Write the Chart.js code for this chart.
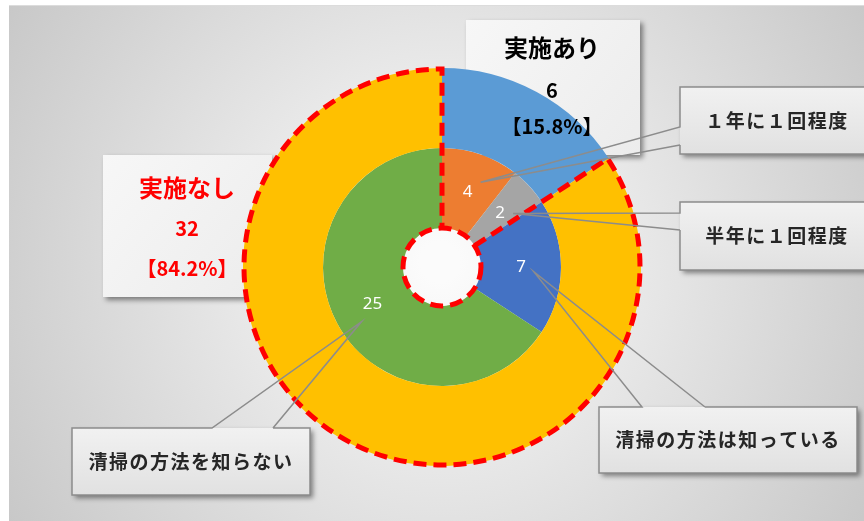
<!DOCTYPE html>
<html lang="ja">
<head>
<meta charset="utf-8">
<script src="https://cdn.jsdelivr.net/npm/chart.js@4.4.0/dist/chart.umd.min.js"></script>
<style>
html, body { margin: 0; padding: 0; background: #ffffff; }
#wrap { width: 864px; height: 521px; }
</style>
</head>
<body>
<div id="wrap"><canvas id="pie" width="864" height="521"></canvas></div>
<script>
// outer ring: 実施あり / 実施なし
const outerLabels = ['実施あり', '実施なし'];
const outerValues = [6, 32];
const outerColors = ['#5B9BD5', '#FFC000'];
const outerTextColors = ['#000000', '#FF0000'];

// inner ring: breakdown
const innerLabels = ['１年に１回程度', '半年に１回程度', '清掃の方法は知っている', '清掃の方法を知らない'];
const innerValues = [4, 2, 7, 25];
const innerColors = ['#ED7D31', '#A5A5A5', '#4472C4', '#70AD47'];

const JP = '"Noto Sans CJK JP", "Noto Sans", sans-serif';

// layout of the annotation boxes (pixels)
const groupBoxes = [
    { x: 466, y: 20, w: 174, h: 135, cx: 552, ty: [48, 90, 126] },
    { x: 103, y: 155, w: 169, h: 142, cx: 187, ty: [188, 228, 268] }
];
const callouts = [
    { x: 680, y: 87, w: 200, h: 67, tx: 777, side: 'left', b1: 127, b2: 145, tip: [13, -10] },
    { x: 680, y: 202, w: 200, h: 68, tx: 777, side: 'left', b1: 213, b2: 230, tip: [13, 0] },
    { x: 599, y: 407, w: 258, h: 66, tx: 728, side: 'top', b1: 642, b2: 705, tip: [13, 5] },
    { x: 72, y: 428, w: 238, h: 67, tx: 191, side: 'top', b1: 212, b2: 273, tip: [-11, 17] }
];

const total = outerValues.reduce((a, b) => a + b, 0);
const pct = v => (v / total * 100).toFixed(1) + '%';

function shadowOn(ctx) {
    ctx.shadowColor = 'rgba(0, 0, 0, 0.45)';
    ctx.shadowBlur = 5;
    ctx.shadowOffsetX = 3;
    ctx.shadowOffsetY = 3;
}

const decorPlugin = {
    id: 'decor',
    beforeDraw(chart) {
        const ctx = chart.ctx;
        ctx.save();
        const g = ctx.createRadialGradient(440, 262, 20, 440, 262, 560);
        g.addColorStop(0, '#fbfbfb');
        g.addColorStop(1, '#c2c2c2');
        ctx.fillStyle = g;
        ctx.fillRect(9, 5, 855, 516);
        ctx.strokeStyle = '#dcdcdc';
        ctx.lineWidth = 1;
        ctx.beginPath();
        ctx.moveTo(9, 5.5);
        ctx.lineTo(864, 5.5);
        ctx.stroke();
        ctx.restore();
    },
    beforeDatasetsDraw(chart) {
        // boxes of the group labels sit under the rings
        const ctx = chart.ctx;
        groupBoxes.forEach(b => {
            ctx.save();
            shadowOn(ctx);
            const g = ctx.createLinearGradient(b.x, b.y, b.x + b.w, b.y + b.h);
            g.addColorStop(0, '#f7f7f7');
            g.addColorStop(1, '#ececec');
            ctx.fillStyle = g;
            ctx.fillRect(b.x, b.y, b.w, b.h);
            ctx.restore();
        });
    },
    afterDatasetsDraw(chart) {
        const ctx = chart.ctx;
        const outerMeta = chart.getDatasetMeta(0);
        const innerMeta = chart.getDatasetMeta(1);
        const hole = innerMeta.data[0].getProps(['innerRadius'], true).innerRadius;

        // red dashed outline of 実施なし
        const arc = outerMeta.data[1].getProps(['x', 'y', 'startAngle', 'endAngle', 'outerRadius'], true);
        const r = arc.outerRadius - 1;
        ctx.save();
        ctx.strokeStyle = '#FF0000';
        ctx.lineWidth = 5;
        ctx.setLineDash([13, 7]);
        ctx.beginPath();
        ctx.moveTo(arc.x + hole * Math.cos(arc.startAngle), arc.y + hole * Math.sin(arc.startAngle));
        ctx.lineTo(arc.x + r * Math.cos(arc.startAngle), arc.y + r * Math.sin(arc.startAngle));
        ctx.arc(arc.x, arc.y, r, arc.startAngle, arc.endAngle);
        ctx.lineTo(arc.x + hole * Math.cos(arc.endAngle), arc.y + hole * Math.sin(arc.endAngle));
        ctx.stroke();
        ctx.beginPath();
        ctx.arc(arc.x, arc.y, hole, 0, Math.PI * 2);
        ctx.stroke();
        ctx.restore();

        // value labels on the inner ring
        ctx.save();
        ctx.fillStyle = '#ffffff';
        ctx.font = '17px "Noto Sans", sans-serif';
        ctx.textAlign = 'center';
        ctx.textBaseline = 'middle';
        innerMeta.data.forEach((el, i) => {
            const p = el.tooltipPosition();
            ctx.fillText(String(innerValues[i]), p.x, p.y);
        });
        ctx.restore();

        // callouts for the inner ring categories
        callouts.forEach((c, i) => {
            const p = innerMeta.data[i].tooltipPosition();
            const tx = p.x + c.tip[0], ty = p.y + c.tip[1];
            ctx.save();
            shadowOn(ctx);
            const g = ctx.createLinearGradient(c.x, c.y, c.x, c.y + c.h);
            g.addColorStop(0, '#f1f1f1');
            g.addColorStop(1, '#e1e1e1');
            ctx.fillStyle = g;
            ctx.fillRect(c.x, c.y, c.w, c.h);
            ctx.restore();

            ctx.save();
            ctx.strokeStyle = '#8c8c8c';
            ctx.lineWidth = 1.5;
            ctx.beginPath();
            if (c.side === 'left') {
                ctx.moveTo(c.x, c.b2);
                ctx.lineTo(c.x, c.y + c.h);
                ctx.lineTo(c.x + c.w, c.y + c.h);
                ctx.lineTo(c.x + c.w, c.y);
                ctx.lineTo(c.x, c.y);
                ctx.lineTo(c.x, c.b1);
                ctx.lineTo(tx, ty);
                ctx.lineTo(c.x, c.b2);
            } else {
                ctx.moveTo(c.b2, c.y);
                ctx.lineTo(c.x + c.w, c.y);
                ctx.lineTo(c.x + c.w, c.y + c.h);
                ctx.lineTo(c.x, c.y + c.h);
                ctx.lineTo(c.x, c.y);
                ctx.lineTo(c.b1, c.y);
                ctx.lineTo(tx, ty);
                ctx.lineTo(c.b2, c.y);
            }
            ctx.stroke();
            ctx.fillStyle = '#262626';
            ctx.font = 'bold 19px ' + JP;
            ctx.letterSpacing = '1.5px';
            ctx.textAlign = 'center';
            ctx.textBaseline = 'middle';
            ctx.fillText(innerLabels[i], c.tx, c.y + c.h / 2);
            ctx.restore();
        });

        // group labels: name, count, share
        groupBoxes.forEach((b, i) => {
            ctx.save();
            ctx.fillStyle = outerTextColors[i];
            ctx.textAlign = 'center';
            ctx.textBaseline = 'middle';
            ctx.font = 'bold 24px ' + JP;
            ctx.fillText(outerLabels[i], b.cx, b.ty[0]);
            ctx.font = 'bold 20px ' + JP;
            ctx.fillText(String(outerValues[i]), b.cx, b.ty[1]);
            ctx.fillText('【' + pct(outerValues[i]) + '】', b.cx, b.ty[2]);
            ctx.restore();
        });
    }
};

new Chart(document.getElementById('pie'), {
    type: 'doughnut',
    data: {
        labels: innerLabels,
        datasets: [
            { data: outerValues, backgroundColor: outerColors, borderWidth: 0 },
            { data: innerValues, backgroundColor: innerColors, borderWidth: 0 }
        ]
    },
    options: {
        responsive: false,
        animation: false,
        cutout: 39,
        layout: { padding: { top: 68, bottom: 55, left: 243, right: 223 } },
        plugins: {
            legend: { display: false },
            tooltip: { enabled: false }
        }
    },
    plugins: [decorPlugin]
});
</script>
</body>
</html>
